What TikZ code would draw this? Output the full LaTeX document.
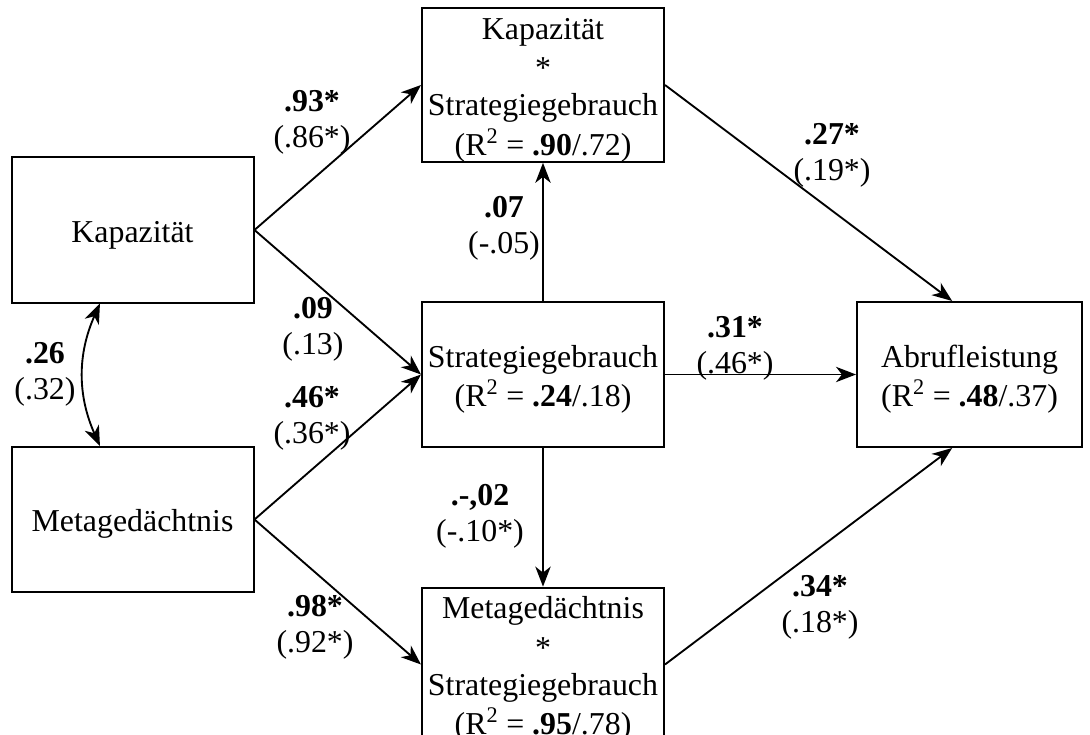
\documentclass[tikz,border=0pt]{standalone}
\usepackage{fontspec}
\setmainfont{Liberation Serif}
\usetikzlibrary{arrows.meta}
% strut giving every text line the same height and depth
\newcommand\lnstrut{\rule[-3.9pt]{0pt}{27.4pt}}
\newcommand\rsq[2]{(R\textsuperscript{2} = \textbf{#1}/#2)}

\begin{document}
\begin{tikzpicture}[x=0.75pt,y=-0.75pt,
  every node/.style={font=\fontsize{23.9pt}{27.4pt}\selectfont, align=center, inner sep=0pt},
  var/.style={draw, line width=1.5pt, minimum width=181.5pt, minimum height=108.75pt},
  tip/.style={Stealth[length=15pt,width=11.5pt,inset=4.5pt]},
  conn/.style={-{Stealth[length=15pt,width=11.5pt,inset=4.5pt]}, line width=1.4pt},
  both/.style={{Stealth[length=15pt,width=11.5pt,inset=4.5pt]}-{Stealth[length=15pt,width=11.5pt,inset=4.5pt]}, line width=1.4pt},
  coef/.style={}]

\fill[white] (0,0) rectangle (1090,735);
\useasboundingbox (0,0) rectangle (1090,735);

% variables
\node[var] (kap) at (132.5,230) {\lnstrut Kapazität};
\node[var] (meta) at (132.5,519.5) {\lnstrut Metagedächtnis};
\node[var] (ks) at (543,85) {\lnstrut Kapazität\\\lnstrut *\\\lnstrut Strategiegebrauch\\\lnstrut\rsq{.90}{.72}};
\node[var] (sg) at (543,374.5) {\lnstrut Strategiegebrauch\\\lnstrut\rsq{.24}{.18}};
\node[var] (ms) at (543,664.5) {\lnstrut Metagedächtnis\\\lnstrut *\\\lnstrut Strategiegebrauch\\\lnstrut\rsq{.95}{.78}};
\node[var, minimum width=168.75pt] (abr) at (969.5,374.5) {\lnstrut Abrufleistung\\\lnstrut\rsq{.48}{.37}};

% paths
\draw[conn] (kap.east) -- (ks.west);
\draw[conn] (kap.east) -- (sg.west);
\draw[conn] (meta.east) -- (sg.west);
\draw[conn] (meta.east) -- (ms.west);
\draw[conn] (sg.north) -- (ks.south);
\draw[conn] (sg.south) -- (ms.north);
\draw[conn] (sg.east) -- (abr.west);
\draw[conn] (ks.east) -- ([xshift=-13pt]abr.north);
\draw[conn] (ms.east) -- ([xshift=-13pt]abr.south);
\draw[both] ([xshift=-24.4pt]kap.south) to[bend right=24] ([xshift=-24.4pt]meta.north);

% path coefficients
\node[coef] (c93) at (312,117) {\lnstrut\textbf{.93*}\\\lnstrut(.86*)};
\node[coef] (c09) at (313,324) {\lnstrut\textbf{.09}\\\lnstrut(.13)};
\node[coef] (c46) at (312,413) {\lnstrut\textbf{.46*}\\\lnstrut(.36*)};
\node[coef] (c98) at (315,622) {\lnstrut\textbf{.98*}\\\lnstrut(.92*)};
\node[coef] (c07) at (504,223) {\lnstrut\textbf{.07}\\\lnstrut(-.05)};
\node[coef] (c02) at (480,511) {\lnstrut\textbf{.-,02}\\\lnstrut(-.10*)};
\node[coef] (c31) at (735,343) {\lnstrut\textbf{.31*}\\\lnstrut(.46*)};
\node[coef] (c27) at (832,150) {\lnstrut\textbf{.27*}\\\lnstrut(.19*)};
\node[coef] (c34) at (820,602) {\lnstrut\textbf{.34*}\\\lnstrut(.18*)};
\node[coef] (c26) at (45,369) {\lnstrut\textbf{.26}\\\lnstrut(.32)};

\end{tikzpicture}
\end{document}
